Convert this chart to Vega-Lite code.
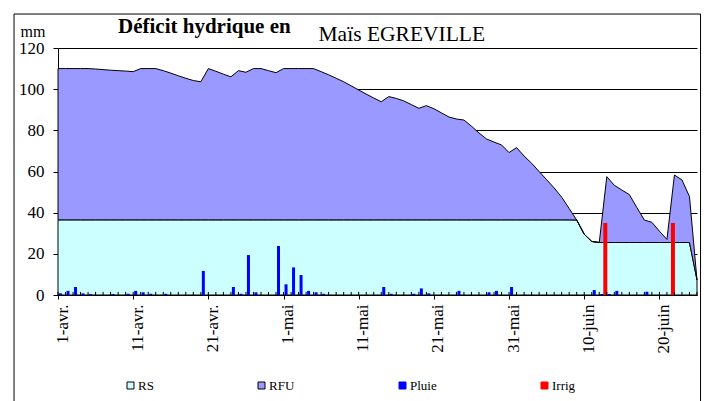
{
  "$schema": "https://vega.github.io/schema/vega-lite/v6.json",
  "width": 639,
  "height": 247,
  "autosize": "none",
  "padding": {"left": 58, "top": 48, "right": 10, "bottom": 106},
  "background": "white",
  "config": {"font": "'Liberation Serif', 'Times New Roman', 'DejaVu Serif', serif", "view": {"stroke": null}},
  "title": {"text": "Déficit hydrique en", "font": "'Liberation Serif', 'Times New Roman', 'DejaVu Serif', serif", "fontSize": 21, "fontWeight": "bold", "color": "black", "anchor": "start", "frame": "group", "dx": 60, "offset": -23},
  "data": {"values": [
    {"jour":0,"RS":36.5,"RFU":73.5,"Pluie":0.8,"Irrig":0},
    {"jour":1,"RS":36.5,"RFU":73.5,"Pluie":2,"Irrig":0},
    {"jour":2,"RS":36.5,"RFU":73.5,"Pluie":3.9,"Irrig":0},
    {"jour":3,"RS":36.5,"RFU":73.5,"Pluie":0.8,"Irrig":0},
    {"jour":4,"RS":36.5,"RFU":73.5,"Pluie":0.5,"Irrig":0},
    {"jour":5,"RS":36.5,"RFU":73.3,"Pluie":0,"Irrig":0},
    {"jour":6,"RS":36.5,"RFU":73,"Pluie":0,"Irrig":0},
    {"jour":7,"RS":36.5,"RFU":72.7,"Pluie":0.5,"Irrig":0},
    {"jour":8,"RS":36.5,"RFU":72.5,"Pluie":0,"Irrig":0},
    {"jour":9,"RS":36.5,"RFU":72.3,"Pluie":0.6,"Irrig":0},
    {"jour":10,"RS":36.5,"RFU":72,"Pluie":2,"Irrig":0},
    {"jour":11,"RS":36.5,"RFU":73.5,"Pluie":1.3,"Irrig":0},
    {"jour":12,"RS":36.5,"RFU":73.5,"Pluie":0.6,"Irrig":0},
    {"jour":13,"RS":36.5,"RFU":73.5,"Pluie":0,"Irrig":0},
    {"jour":14,"RS":36.5,"RFU":72.5,"Pluie":0.6,"Irrig":0},
    {"jour":15,"RS":36.5,"RFU":71.3,"Pluie":0,"Irrig":0},
    {"jour":16,"RS":36.5,"RFU":70,"Pluie":0,"Irrig":0},
    {"jour":17,"RS":36.5,"RFU":68.8,"Pluie":0,"Irrig":0},
    {"jour":18,"RS":36.5,"RFU":67.7,"Pluie":0,"Irrig":0},
    {"jour":19,"RS":36.5,"RFU":67.1,"Pluie":11.7,"Irrig":0},
    {"jour":20,"RS":36.5,"RFU":73.5,"Pluie":0,"Irrig":0},
    {"jour":21,"RS":36.5,"RFU":72.2,"Pluie":0,"Irrig":0},
    {"jour":22,"RS":36.5,"RFU":70.8,"Pluie":0,"Irrig":0},
    {"jour":23,"RS":36.5,"RFU":69.5,"Pluie":3.9,"Irrig":0},
    {"jour":24,"RS":36.5,"RFU":72.5,"Pluie":0.6,"Irrig":0},
    {"jour":25,"RS":36.5,"RFU":71.7,"Pluie":19.4,"Irrig":0},
    {"jour":26,"RS":36.5,"RFU":73.5,"Pluie":1.3,"Irrig":0},
    {"jour":27,"RS":36.5,"RFU":73.5,"Pluie":0,"Irrig":0},
    {"jour":28,"RS":36.5,"RFU":72.5,"Pluie":0,"Irrig":0},
    {"jour":29,"RS":36.5,"RFU":71.5,"Pluie":23.8,"Irrig":0},
    {"jour":30,"RS":36.5,"RFU":73.5,"Pluie":5.2,"Irrig":0},
    {"jour":31,"RS":36.5,"RFU":73.5,"Pluie":13.4,"Irrig":0},
    {"jour":32,"RS":36.5,"RFU":73.5,"Pluie":9.7,"Irrig":0},
    {"jour":33,"RS":36.5,"RFU":73.5,"Pluie":2,"Irrig":0},
    {"jour":34,"RS":36.5,"RFU":73.5,"Pluie":1.3,"Irrig":0},
    {"jour":35,"RS":36.5,"RFU":72,"Pluie":0.6,"Irrig":0},
    {"jour":36,"RS":36.5,"RFU":70.5,"Pluie":0,"Irrig":0},
    {"jour":37,"RS":36.5,"RFU":68.8,"Pluie":0,"Irrig":0},
    {"jour":38,"RS":36.5,"RFU":67.1,"Pluie":0,"Irrig":0},
    {"jour":39,"RS":36.5,"RFU":65.1,"Pluie":0,"Irrig":0},
    {"jour":40,"RS":36.5,"RFU":63.1,"Pluie":0,"Irrig":0},
    {"jour":41,"RS":36.5,"RFU":61.1,"Pluie":0,"Irrig":0},
    {"jour":42,"RS":36.5,"RFU":59.2,"Pluie":0,"Irrig":0},
    {"jour":43,"RS":36.5,"RFU":57.4,"Pluie":3.9,"Irrig":0},
    {"jour":44,"RS":36.5,"RFU":59.9,"Pluie":0.6,"Irrig":0},
    {"jour":45,"RS":36.5,"RFU":59,"Pluie":0,"Irrig":0},
    {"jour":46,"RS":36.5,"RFU":57.8,"Pluie":0,"Irrig":0},
    {"jour":47,"RS":36.5,"RFU":56,"Pluie":0.6,"Irrig":0},
    {"jour":48,"RS":36.5,"RFU":54.2,"Pluie":3.2,"Irrig":0},
    {"jour":49,"RS":36.5,"RFU":55.5,"Pluie":0.8,"Irrig":0},
    {"jour":50,"RS":36.5,"RFU":54,"Pluie":0,"Irrig":0},
    {"jour":51,"RS":36.5,"RFU":52,"Pluie":0,"Irrig":0},
    {"jour":52,"RS":36.5,"RFU":50,"Pluie":0,"Irrig":0},
    {"jour":53,"RS":36.5,"RFU":49,"Pluie":2,"Irrig":0},
    {"jour":54,"RS":36.5,"RFU":48.5,"Pluie":0,"Irrig":0},
    {"jour":55,"RS":36.5,"RFU":45.5,"Pluie":0,"Irrig":0},
    {"jour":56,"RS":36.5,"RFU":42.2,"Pluie":0,"Irrig":0},
    {"jour":57,"RS":36.5,"RFU":39.3,"Pluie":1.3,"Irrig":0},
    {"jour":58,"RS":36.5,"RFU":37.8,"Pluie":2,"Irrig":0},
    {"jour":59,"RS":36.5,"RFU":36.4,"Pluie":0,"Irrig":0},
    {"jour":60,"RS":36.5,"RFU":32.7,"Pluie":3.9,"Irrig":0},
    {"jour":61,"RS":36.5,"RFU":35.1,"Pluie":0,"Irrig":0},
    {"jour":62,"RS":36.5,"RFU":31,"Pluie":0,"Irrig":0},
    {"jour":63,"RS":36.5,"RFU":27.5,"Pluie":0,"Irrig":0},
    {"jour":64,"RS":36.5,"RFU":23.5,"Pluie":0,"Irrig":0},
    {"jour":65,"RS":36.5,"RFU":19.5,"Pluie":0,"Irrig":0},
    {"jour":66,"RS":36.5,"RFU":15.5,"Pluie":0,"Irrig":0},
    {"jour":67,"RS":36.5,"RFU":11,"Pluie":0,"Irrig":0},
    {"jour":68,"RS":36.5,"RFU":5.5,"Pluie":0,"Irrig":0},
    {"jour":69,"RS":36.4,"RFU":0,"Pluie":0,"Irrig":0},
    {"jour":70,"RS":29.5,"RFU":0,"Pluie":0,"Irrig":0},
    {"jour":71,"RS":26,"RFU":0,"Pluie":2.4,"Irrig":0},
    {"jour":72,"RS":25.5,"RFU":0,"Pluie":0.5,"Irrig":0},
    {"jour":73,"RS":25.5,"RFU":32,"Pluie":0.5,"Irrig":35},
    {"jour":74,"RS":25.5,"RFU":27.8,"Pluie":2,"Irrig":0},
    {"jour":75,"RS":25.5,"RFU":25.5,"Pluie":0,"Irrig":0},
    {"jour":76,"RS":25.5,"RFU":23.3,"Pluie":0,"Irrig":0},
    {"jour":77,"RS":25.5,"RFU":17,"Pluie":0,"Irrig":0},
    {"jour":78,"RS":25.5,"RFU":10.9,"Pluie":1.6,"Irrig":0},
    {"jour":79,"RS":25.5,"RFU":9.8,"Pluie":0,"Irrig":0},
    {"jour":80,"RS":25.5,"RFU":5.5,"Pluie":0,"Irrig":0},
    {"jour":81,"RS":25.5,"RFU":1.5,"Pluie":0,"Irrig":0},
    {"jour":82,"RS":25.5,"RFU":32.8,"Pluie":0,"Irrig":35},
    {"jour":83,"RS":25.5,"RFU":30.4,"Pluie":0,"Irrig":0},
    {"jour":84,"RS":25.5,"RFU":22.3,"Pluie":0,"Irrig":0},
    {"jour":85,"RS":7.3,"RFU":0,"Pluie":0,"Irrig":0}
  ]},
  "transform": [{"fold": ["RS", "RFU", "Pluie", "Irrig"], "as": ["serie", "mm"]}],
  "encoding": {
    "x": {
      "field": "jour", "type": "quantitative",
      "scale": {"domain": [0, 85], "nice": false, "zero": false, "padding": 0},
      "axis": {
        "values": [0, 10, 20, 30, 40, 50, 60, 70, 80],
        "labelExpr": "['1-avr.','11-avr.','21-avr.','1-mai','11-mai','21-mai','31-mai','10-juin','20-juin'][round(datum.value/10)]",
        "labelAngle": -90, "labelFontSize": 17, "labelColor": "black",
        "labelOffset": 4, "labelPadding": 5, "labelOverlap": false, "labelFlush": false, "labelBound": false,
        "tickSize": 4, "tickColor": "black", "domainColor": "black", "grid": false,
        "title": "Maïs EGREVILLE", "titleFontSize": 21.5, "titleFontWeight": "normal",
        "titleColor": "black", "titleX": 260, "titleY": -255, "titleAlign": "left", "titleBaseline": "alphabetic", "titleAngle": 0
      }
    },
    "y": {
      "field": "mm", "type": "quantitative",
      "scale": {"domain": [0, 120], "nice": false},
      "axis": {
        "values": [0, 20, 40, 60, 80, 100, 120],
        "grid": true, "gridColor": "black", "gridWidth": 1, "gridOpacity": 1,
        "tickSize": 5, "tickColor": "black", "domainColor": "black",
        "labelFontSize": 17, "labelColor": "black", "labelPadding": 9,
        "title": "mm", "titleFontSize": 16, "titleFontWeight": "normal",
        "titleColor": "black", "titleAngle": 0, "titleX": -38, "titleY": -12, "titleAlign": "left", "titleBaseline": "alphabetic"
      }
    }
  },
  "layer": [
    {
      "transform": [{"filter": "datum.serie == 'RS' && datum.jour == 0"}],
      "mark": {"type": "rect", "fill": "transparent", "stroke": "black", "strokeWidth": 1, "clip": false},
      "encoding": {
        "x": {"datum": -5.85},
        "x2": {"datum": 85.47},
        "y": {"datum": 136.5},
        "y2": {"datum": -56}
      }
    },
    {
      "transform": [{"filter": "datum.serie == 'RS' || datum.serie == 'RFU'"}],
      "mark": {"type": "area", "stroke": "black", "strokeWidth": 1, "opacity": 1},
      "encoding": {
        "y": {"field": "mm", "type": "quantitative", "stack": "zero"},
        "fill": {
          "field": "serie", "type": "nominal",
          "scale": {"domain": ["RS", "RFU", "Pluie", "Irrig"], "range": ["#CCFFFF", "#9999FF", "#0000FF", "#FF0000"]},
          "legend": {
            "title": null, "orient": "none", "legendX": 66, "legendY": 331,
            "direction": "horizontal", "columns": 4, "gridAlign": "none", "columnPadding": 101,
            "symbolType": "square", "symbolSize": 49, "symbolStrokeWidth": 1,
            "symbolStrokeColor": {"expr": "datum.value == 'Pluie' ? '#0000FF' : datum.value == 'Irrig' ? '#FF0000' : 'black'"},
            "symbolOpacity": 1, "labelFontSize": 13, "labelColor": "black", "labelOffset": 1
          }
        },
        "order": {"field": "serie", "sort": "descending"}
      }
    },
    {
      "transform": [{"filter": "datum.serie == 'Pluie' && datum.mm > 0"}],
      "mark": {"type": "bar", "size": 3, "xOffset": 2.5},
      "encoding": {
        "y": {"field": "mm", "type": "quantitative", "stack": null},
        "fill": {"field": "serie", "type": "nominal"}
      }
    },
    {
      "transform": [{"filter": "datum.serie == 'Irrig' && datum.mm > 0"}],
      "mark": {"type": "bar", "size": 4, "xOffset": -1.5},
      "encoding": {
        "y": {"field": "mm", "type": "quantitative", "stack": null},
        "fill": {"field": "serie", "type": "nominal"}
      }
    },
    {
      "transform": [{"filter": "datum.serie == 'RS'"}],
      "mark": {"type": "rule", "color": "black", "strokeWidth": 1},
      "encoding": {
        "y": {"datum": 0},
        "y2": {"datum": 1.5}
      }
    }
  ]
}
